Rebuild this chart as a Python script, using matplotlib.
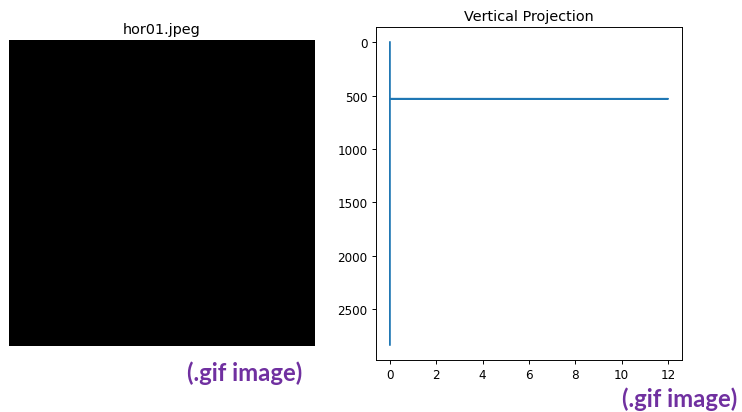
import numpy as np
import matplotlib.pyplot as plt

# image info (all black, square)
img_name = "hor01.jpeg"
n_rows = 2836
spike_row = 531
spike_value = 12

# vertical projection: count per row
proj = np.zeros(n_rows)
proj[spike_row] = spike_value
rows = np.arange(n_rows)

img = np.zeros((n_rows, n_rows))

W, H = 742, 413
dpi = 86
fig = plt.figure(figsize=(W / dpi, H / dpi), dpi=dpi)

# left: the image
ax1 = fig.add_axes([9 / W, (H - 347) / H, 306 / W, 306 / H])
ax1.imshow(img, cmap='gray', vmin=0, vmax=255, aspect='auto')
ax1.set_title(img_name)
ax1.axis('off')

# right: projection
ax2 = fig.add_axes([376 / W, (H - 361) / H, 306 / W, 333 / H])
ax2.plot(proj, rows)
ax2.invert_yaxis()
ax2.set_title("Vertical Projection")
ax2.set_xticks([0, 2, 4, 6, 8, 10, 12])

# watermark labels
fig.text(245 / W, 1 - 373 / H, "(.gif image)", color='#7030a0', fontsize=20,
         fontweight='bold', family='Lato', ha='center', va='center')
fig.text(680 / W, 1 - 399 / H, "(.gif image)", color='#7030a0', fontsize=20,
         fontweight='bold', family='Lato', ha='center', va='center')

fig.savefig("out.png", dpi=dpi)
